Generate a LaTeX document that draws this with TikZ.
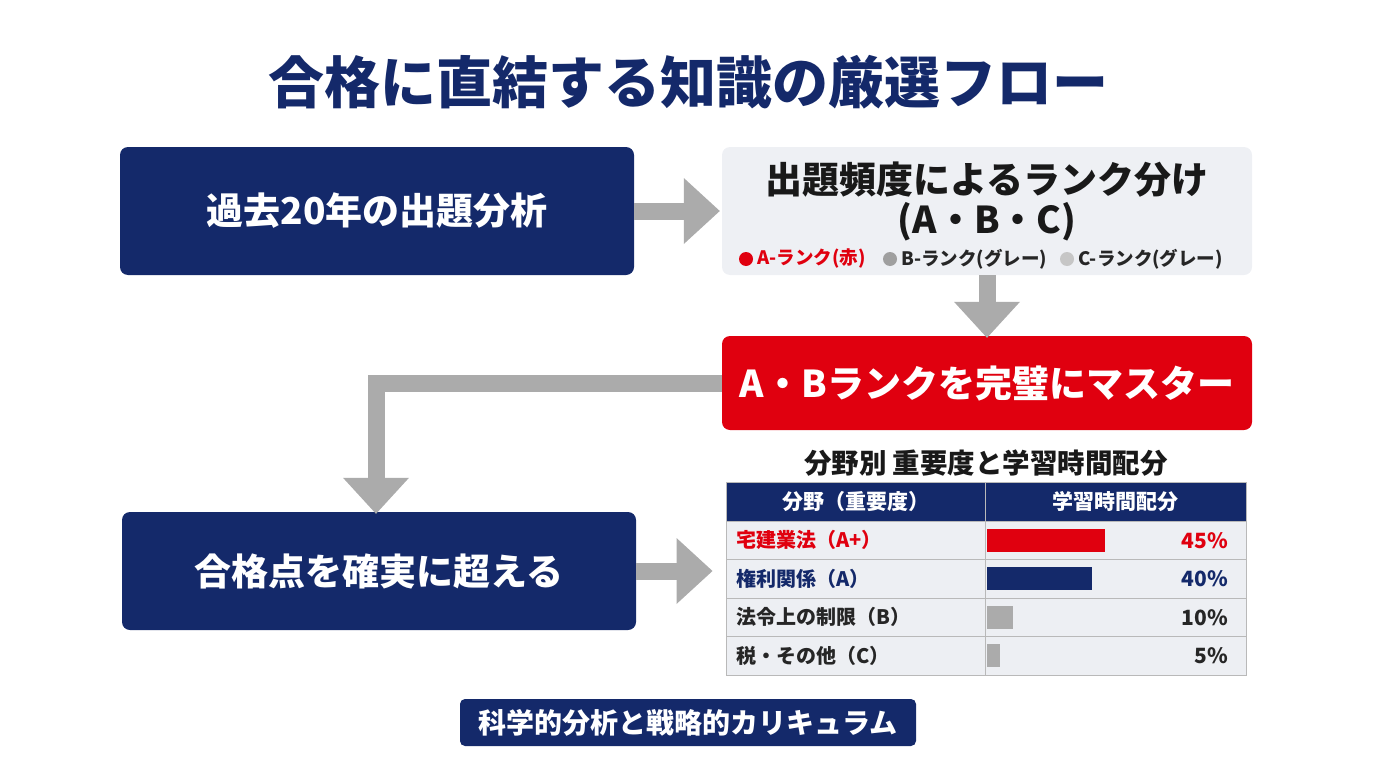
\documentclass[tikz,border=0pt]{standalone}
\usepackage{fontspec}
\setmainfont{Noto Sans CJK JP}
\usepackage{tikz}
\usetikzlibrary{arrows.meta, positioning, calc}

\definecolor{navy}{HTML}{14296A}
\definecolor{alert}{HTML}{E0000F}
\definecolor{flow}{HTML}{ABABAB}
\definecolor{panel}{HTML}{EEF0F4}
\definecolor{rowbg}{HTML}{EDEFF3}
\newcommand{\setfs}[1]{\fontsize{#1}{#1}\selectfont}

\begin{document}
\begin{tikzpicture}[
    x=1pt, y=-1pt,
    box/.style      = {rounded corners=8pt, inner sep=0pt, align=center},
    navybox/.style  = {box, fill=navy, text=white, font=\setfs{37}\bfseries},
    bigarrow/.style = {draw=flow, line width=17pt, -{Triangle[width=66pt, length=36pt, line width=0pt]}},
    cell/.style     = {draw=gray!55, line width=1pt, inner sep=0pt, minimum height=38.5pt},
    dot/.style      = {circle, inner sep=0pt, minimum size=14pt},
    legend/.style   = {inner sep=0pt, font=\setfs{18.5}\bfseries}
]
    \useasboundingbox (0,0) rectangle (1376,768);

    % heading
    \node[text=navy, font=\setfs{56}\bfseries] (title) at (688,82) {合格に直結する知識の厳選フロー};

    % flow boxes
    \node[navybox, minimum width=514pt, minimum height=128pt] (past) at (377,211) {過去20年の出題分析};
    \node[box, fill=panel, minimum width=530pt, minimum height=128pt] (rank) at (987,211) {};
    \node[box, fill=alert, text=white, font=\setfs{37}\bfseries, minimum width=530pt, minimum height=94pt] (master) at (987,383) {A・Bランクを完璧にマスター};
    \node[navybox, minimum width=514pt, minimum height=118pt] (pass) at (379,571) {合格点を確実に超える};

    % ranking panel contents
    \node[font=\setfs{37}\bfseries, text=black!90] (rankhead) at (987,180) {出題頻度によるランク分け};
    \node[font=\setfs{37}\bfseries, text=black!90] (rankabc) at (987,222) {(A・B・C)};
    \node[dot, fill=alert] (dotA) at (746,259) {};
    \node[legend, text=alert, right=4pt of dotA] (legA) {A-ランク(赤)};
    \node[dot, fill=gray!75] (dotB) at (890,259) {};
    \node[legend, text=black!85, right=4pt of dotB] (legB) {B-ランク(グレー)};
    \node[dot, fill=gray!45] (dotC) at (1067,259) {};
    \node[legend, text=black!85, right=4pt of dotC] (legC) {C-ランク(グレー)};

    % table
    \node[font=\setfs{27.5}\bfseries, text=black!90] (tbltitle) at (986,463) {分野別 重要度と学習時間配分};
    \node[cell, fill=navy, text=white, font=\setfs{21}\bfseries, minimum width=259pt] (hdrL) at (855.5,502) {分野（重要度）};
    \node[cell, fill=navy, text=white, font=\setfs{21}\bfseries, minimum width=261pt] (hdrR) at (1115.5,502) {学習時間配分};
    \foreach \lbl/\pct/\col/\barcol [count=\i] in {宅建業法（A+）/45/alert/alert, 権利関係（A）/40/navy/navy,
        法令上の制限（B）/10/black!85/flow, 税・その他（C）/5/black!85/flow} {
        \pgfmathsetmacro{\yc}{521+(\i-1)*38.5+19.25}
        \node[cell, fill=rowbg, minimum width=259pt] (rowL\i) at (855.5,\yc) {};
        \node[cell, fill=rowbg, minimum width=261pt] (rowR\i) at (1115.5,\yc) {};
        \node[anchor=west, inner sep=0pt, text=\col, font=\setfs{20}\bfseries] (lbl\i) at (736,\yc) {\lbl};
        \fill[\barcol] (987,\yc-11.5) rectangle ++(\pct*2.62,23);
        \node[anchor=east, inner sep=0pt, text=\col, font=\setfs{21}\bfseries] (pct\i) at (1228,\yc) {\pct\%};
    }

    % connectors
    \draw[bigarrow] (past.east) -- ([xshift=-2pt]rank.west);
    \draw[bigarrow] (rank.south) -- ([yshift=-2pt]master.north);
    \draw[bigarrow] (master.west) -| ([xshift=-3pt,yshift=-2pt]pass.north);
    \draw[bigarrow, shorten >=13pt] (pass.east) -- (pass.east -| hdrL.west);

    % footer tag
    \node[box, rounded corners=5pt, fill=navy, text=white, font=\setfs{28}\bfseries, minimum width=456pt, minimum height=47pt] (tag) at (688,722.5) {科学的分析と戦略的カリキュラム};
\end{tikzpicture}
\end{document}
